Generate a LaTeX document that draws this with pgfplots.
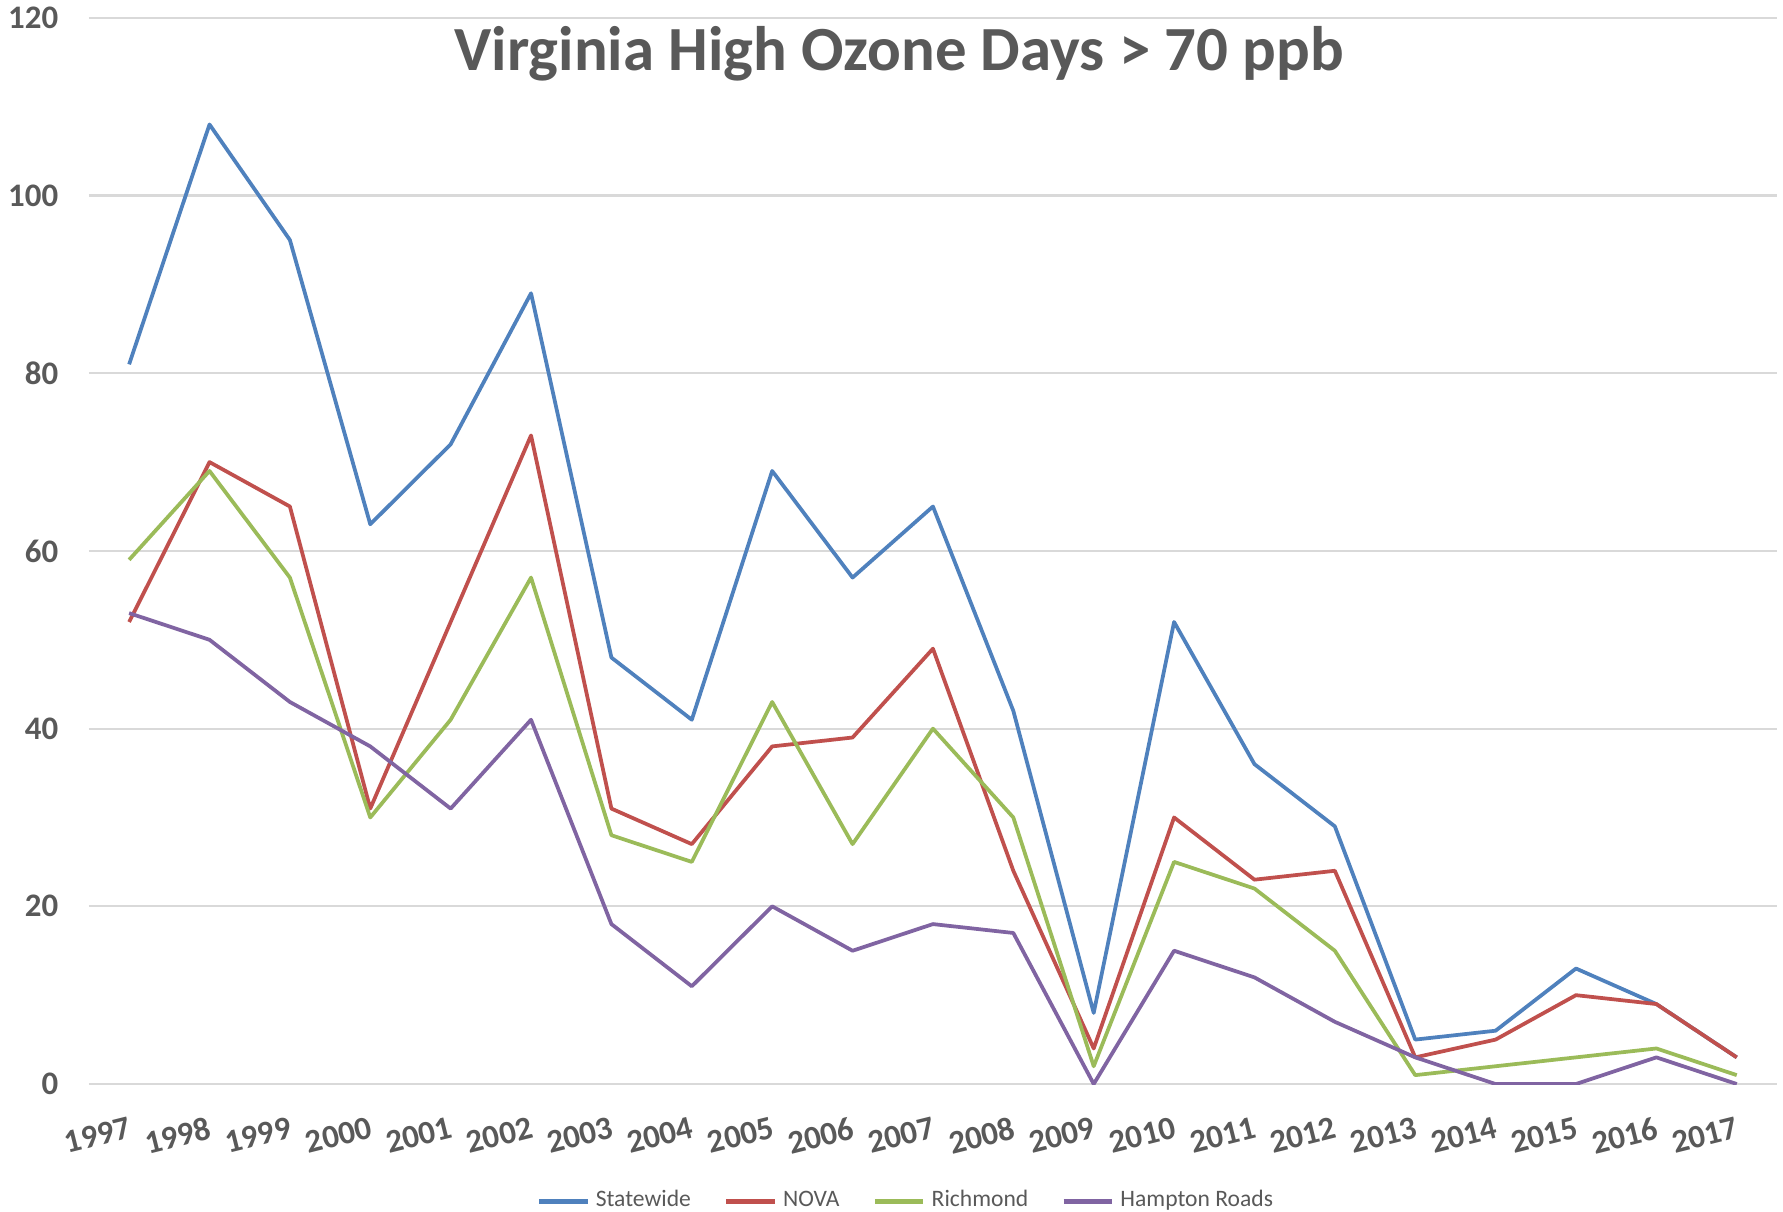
\documentclass[border=0pt]{standalone}
\usepackage{pgfplots}
\pgfplotsset{compat=1.18}
\usepackage{fontspec}
\setmainfont{Carlito}

\definecolor{txt}{HTML}{595959}
\definecolor{gridc}{HTML}{D9D9D9}
\definecolor{cState}{HTML}{4F81BD}
\definecolor{cNova}{HTML}{C0504D}
\definecolor{cRich}{HTML}{9BBB59}
\definecolor{cHamp}{HTML}{8064A2}

\begin{document}
\begin{tikzpicture}
\begin{axis}[
  at={(0,0)}, anchor=south west,
  scale only axis,
  width=472.6pt, height=298.5pt,
  xmin=1996.5, xmax=2017.5,
  ymin=0, ymax=120,
  xtick={1997,...,2017},
  ytick={0,20,...,120},
  axis line style={draw=none},
  major tick length=0pt,
  ymajorgrids,
  grid style={gridc, line width=0.6pt},
  /pgf/number format/assume math mode=true,
  /pgf/number format/1000 sep={},
  ticklabel style={font=\fontsize{9.2}{10}\selectfont\bfseries, text=txt},
  yticklabel style={anchor=east, inner sep=0pt, xshift=-8.4pt},
  xticklabel style={rotate=14, anchor=north east, inner sep=0pt, yshift=-8.5pt, xshift=-2.5pt},
  legend style={at={(0.485,-0.11)}, anchor=center, draw=none, fill=none,
    legend columns=-1, font=\fontsize{6.6}{8}\selectfont, text=txt,
    nodes={inner sep=1.6pt},
    /tikz/every even column/.append style={column sep=7.6pt}},
  legend image code/.code={\draw[#1, line width=1.4pt] (0pt,0pt) -- (13.6pt,0pt);},
  every axis plot/.append style={line width=1.05pt, line join=round, mark=none},
]
% Statewide
\addplot[cState] coordinates {
(1997,81) (1998,108) (1999,95) (2000,63) (2001,72) (2002,89) (2003,48)
(2004,41) (2005,69) (2006,57) (2007,65) (2008,42) (2009,8) (2010,52)
(2011,36) (2012,29) (2013,5) (2014,6) (2015,13) (2016,9) (2017,3)};
% NOVA
\addplot[cNova] coordinates {
(1997,52) (1998,70) (1999,65) (2000,31) (2001,52) (2002,73) (2003,31)
(2004,27) (2005,38) (2006,39) (2007,49) (2008,24) (2009,4) (2010,30)
(2011,23) (2012,24) (2013,3) (2014,5) (2015,10) (2016,9) (2017,3)};
% Richmond
\addplot[cRich] coordinates {
(1997,59) (1998,69) (1999,57) (2000,30) (2001,41) (2002,57) (2003,28)
(2004,25) (2005,43) (2006,27) (2007,40) (2008,30) (2009,2) (2010,25)
(2011,22) (2012,15) (2013,1) (2014,2) (2015,3) (2016,4) (2017,1)};
% Hampton Roads
\addplot[cHamp] coordinates {
(1997,53) (1998,50) (1999,43) (2000,38) (2001,31) (2002,41) (2003,18)
(2004,11) (2005,20) (2006,15) (2007,18) (2008,17) (2009,0) (2010,15)
(2011,12) (2012,7) (2013,3) (2014,0) (2015,0) (2016,3) (2017,0)};
\legend{Statewide, NOVA, Richmond, Hampton Roads}
\node[font=\fontsize{17.6}{20}\selectfont\bfseries, text=txt, anchor=base]
  at (rel axis cs:0.480,1) [yshift=-14.7pt] {Virginia High Ozone Days > 70 ppb};
\end{axis}
\pgfresetboundingbox
\path[use as bounding box] (-24.9pt,-35.8pt) rectangle (474.3pt,303.5pt);
\end{tikzpicture}
\end{document}
